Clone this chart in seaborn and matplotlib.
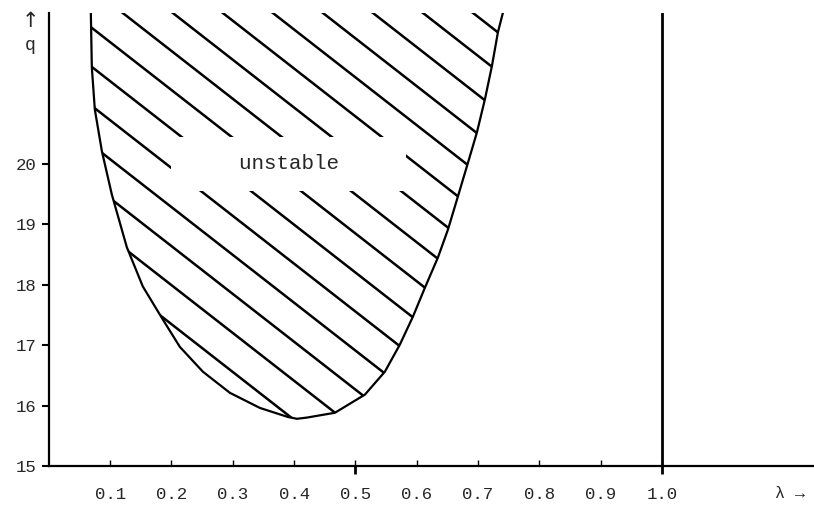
import numpy as np
import matplotlib
matplotlib.use('Agg')
import matplotlib.pyplot as plt
from matplotlib.collections import LineCollection
import seaborn as sns

# Boundary of the unstable region
# left branch from top to bottom, then right branch from bottom to top
lam_curve = [0.0685, 0.0701, 0.0750, 0.0865, 0.1028, 0.1272, 0.1533, 0.1843,
             0.2137, 0.2512, 0.2953, 0.3442, 0.3899, 0.4046, 0.4209, 0.4666,
             0.5155, 0.5481, 0.5726, 0.5938, 0.6134, 0.6346, 0.6509, 0.6672,
             0.6819, 0.6982, 0.7113, 0.7227, 0.7325, 0.7406]
q_curve = [22.50, 21.60, 20.90, 20.21, 19.49, 18.62, 17.97, 17.45,
           16.97, 16.56, 16.21, 15.96, 15.81, 15.78, 15.80, 15.88,
           16.18, 16.56, 17.01, 17.47, 17.95, 18.45, 18.91, 19.46,
           19.96, 20.52, 21.07, 21.62, 22.18, 22.50]

lam_crit = 1.0
region_label = 'unstable'
label_pos = (0.391, 20.0)

x_ticks = [0.1, 0.2, 0.3, 0.4, 0.5, 0.6, 0.7, 0.8, 0.9, 1.0]
x_labels = ['0.1', '0.2', '0.3', '0.4', '0.5', '0.6', '0.7', '0.8', '0.9', '1.0']
x_long_ticks = [0.5, 1.0]
y_ticks = [15, 16, 17, 18, 19, 20]
y_labels = ['15', '16', '17', '18', '19', '20']

sns.set_style('white')
plt.rcParams['font.family'] = ['Liberation Mono', 'DejaVu Sans']

fig = plt.figure(figsize=(8.14, 5.12), dpi=100)
ax = fig.add_axes([0.060, 0.090, 0.94, 0.885])
ax.set_xlim(0, 1.248)
ax.set_ylim(15, 22.5)

# outline of the region
sns.lineplot(x=lam_curve, y=q_curve, sort=False, estimator=None,
             color='black', lw=1.6, ax=ax, zorder=4)
ax.lines[-1].set_solid_joinstyle('round')
region = ax.fill(lam_curve, q_curve, facecolor='none', edgecolor='none')[0]

# diagonal hatching (axes fractions), clipped to the region
slope = 1.317
starts = 0.091 + 0.0654 * np.arange(-7, 8)
segs = [[(x0 - 0.1, 1.007 + slope * 0.1), (x0 + 1.007 / slope, 0.0)] for x0 in starts]
hatch = LineCollection(segs, colors='black', linewidths=1.8,
                       transform=ax.transAxes, zorder=2)
ax.add_collection(hatch)
hatch.set_clip_path(region)

# label with a blank area around it
ax.text(label_pos[0], label_pos[1], '    ' + region_label + '    ',
        ha='center', va='center', fontsize=15, zorder=3,
        bbox=dict(boxstyle='square,pad=0.85', facecolor='white', edgecolor='none'))

ax.axvline(lam_crit, color='black', lw=2.0, zorder=4)

ax.set_xticks(x_ticks)
ax.set_xticklabels(x_labels)
ax.xaxis.remove_overlapping_locs = False
ax.set_xticks(x_long_ticks, minor=True)
ax.set_yticks(y_ticks)
ax.set_yticklabels(y_labels)
ax.tick_params(axis='x', which='major', bottom=True, direction='in', length=4,
               width=1.0, color='black', pad=15, labelsize=12.5)
ax.tick_params(axis='x', which='minor', bottom=True, direction='out', length=6,
               width=2.0, color='black')
ax.tick_params(axis='y', left=True, direction='out', length=5, width=1.5,
               color='black', pad=4, labelsize=12.5)

sns.despine(ax=ax, top=True, right=True)
for side in ['left', 'bottom']:
    ax.spines[side].set_linewidth(1.6)
    ax.spines[side].set_color('black')

fig.text(30 / 814, 1 - 21 / 512, '\u2191', ha='center', va='center', fontsize=15,
         family=['DejaVu Sans'])
fig.text(30 / 814, 1 - 46 / 512, 'q', ha='center', va='center', fontsize=13)
fig.text(790 / 814, 1 - 493 / 512, '\u03bb \u2192', ha='center', va='center', fontsize=12)

fig.savefig('out.png', dpi=100)
